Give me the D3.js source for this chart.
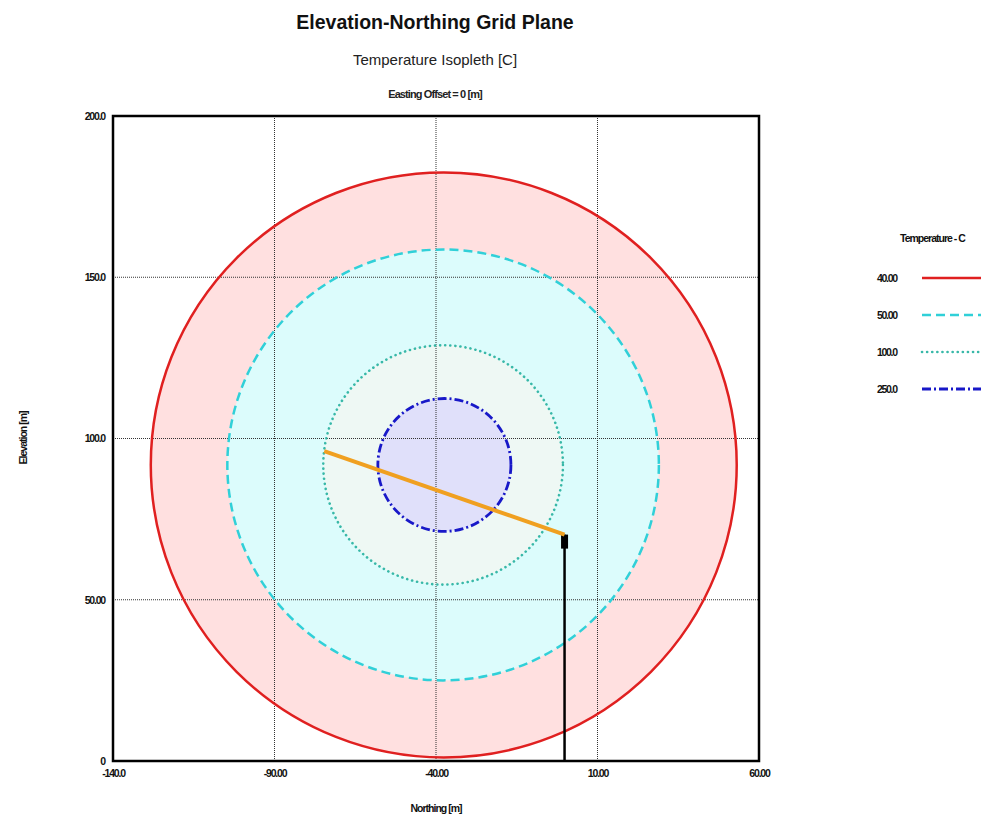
<!DOCTYPE html>
<html><head><meta charset="utf-8">
<script src="https://cdn.jsdelivr.net/npm/d3@7"></script>
<style>
body{margin:0;background:#fff;}
text{font-family:"Liberation Sans",Arial,sans-serif;}
</style></head>
<body>
<svg id="chart" width="981" height="831"></svg>
<script>
// ---- data ----
const xTicks = [-140, -90, -40, 10, 60];
const xTickLabels = ["-140.0", "-90.00", "-40.00", "10.00", "60.00"];
const yTicks = [0, 50, 100, 150, 200];
const yTickLabels = ["0", "50.00", "100.0", "150.0", "200.0"];
const isoLabels = ["40.00", "50.00", "100.0", "250.0"];
const isoRadii = [90.7, 66.8, 37.1, 20.6];
const isoCenterX = [-37.6, -37.8, -37.8, -37.4];
const isoCenterY = [91.8, 91.8, 91.8, 91.8];
const plumeX = [-74.6, -0.2];
const plumeY = [96.1, 70.2];
const stackX = [-0.2, -0.2];
const stackY = [0, 70.2];

const isoStroke = ["#e02020", "#30d0d8", "#38b8a8", "#1818c8"];
const isoFill = ["#ffe0e0", "#dcfcfc", "#eef8f4", "#e0e0fa"];
const isoDash = [null, "9,5", "0.1,5", "9,3,2,3"];
const isoWidth = [2.5, 2.5, 2.6, 2.8];
const isoCap = ["butt", "butt", "round", "butt"];

const svg = d3.select("#chart");
const L = 113, R = 759, T = 116, B = 761;
const x = d3.scaleLinear().domain([-140, 60]).range([L, R]);
const y = d3.scaleLinear().domain([0, 200]).range([B, T]);

// titles
svg.append("text").attr("x", 435).attr("y", 29).attr("text-anchor", "middle")
  .attr("font-size", 19.5).attr("font-weight", "bold").attr("fill", "#111").text("Elevation-Northing Grid Plane");
svg.append("text").attr("x", 435).attr("y", 65).attr("text-anchor", "middle")
  .attr("font-size", 15).attr("fill", "#222").text("Temperature Isopleth [C]");
svg.append("text").attr("x", 435).attr("y", 98).attr("text-anchor", "middle")
  .attr("font-size", 11).attr("font-weight", "bold").attr("letter-spacing", "-0.9").attr("fill", "#222")
  .text("Easting Offset = 0 [m]");

const clip = svg.append("defs").append("clipPath").attr("id", "clip");
clip.append("rect").attr("x", L).attr("y", T).attr("width", R - L).attr("height", B - T);

const g = svg.append("g").attr("clip-path", "url(#clip)");
// fills
isoRadii.forEach((r, i) => {
  g.append("ellipse")
    .attr("cx", x(isoCenterX[i])).attr("cy", y(isoCenterY[i]))
    .attr("rx", x(r) - x(0)).attr("ry", y(0) - y(r))
    .attr("fill", isoFill[i]);
});
// grid
xTicks.slice(1, -1).forEach(v => {
  g.append("line").attr("x1", x(v)).attr("x2", x(v)).attr("y1", T).attr("y2", B)
    .attr("stroke", "#333").attr("stroke-width", 1).attr("stroke-dasharray", "1,1");
});
yTicks.slice(1, -1).forEach(v => {
  g.append("line").attr("y1", y(v)).attr("y2", y(v)).attr("x1", L).attr("x2", R)
    .attr("stroke", "#333").attr("stroke-width", 1).attr("stroke-dasharray", "1,1");
});
// strokes
isoRadii.forEach((r, i) => {
  g.append("ellipse")
    .attr("cx", x(isoCenterX[i])).attr("cy", y(isoCenterY[i]))
    .attr("rx", x(r) - x(0)).attr("ry", y(0) - y(r))
    .attr("fill", "none").attr("stroke", isoStroke[i])
    .attr("stroke-width", isoWidth[i])
    .attr("stroke-linecap", isoCap[i])
    .attr("stroke-dasharray", isoDash[i]);
});
// stack
g.append("line").attr("x1", x(stackX[0])).attr("x2", x(stackX[1]))
  .attr("y1", y(stackY[0])).attr("y2", y(stackY[1]))
  .attr("stroke", "#000").attr("stroke-width", 2.5);
g.append("rect").attr("x", x(stackX[1]) - 3.5).attr("y", y(stackY[1]))
  .attr("width", 7).attr("height", 14).attr("fill", "#000");
// plume centerline
g.append("line").attr("x1", x(plumeX[0])).attr("y1", y(plumeY[0]))
  .attr("x2", x(plumeX[1])).attr("y2", y(plumeY[1]))
  .attr("stroke", "#f0a020").attr("stroke-width", 4);

// frame
svg.append("rect").attr("x", L).attr("y", T).attr("width", R - L).attr("height", B - T)
  .attr("fill", "none").attr("stroke", "#000").attr("stroke-width", 2.5);

// axes labels
const tickStyle = sel => sel.attr("font-size", 10.5).attr("font-weight", "bold")
  .attr("letter-spacing", "-1.2").attr("font-family", "Liberation Sans, Arial, sans-serif").attr("fill", "#111");

const xAxis = d3.axisBottom(x).tickValues(xTicks).tickSize(0)
  .tickFormat((d, i) => xTickLabels[i]);
const xa = svg.append("g").attr("transform", `translate(0,${B + 6})`).call(xAxis);
xa.select(".domain").remove();
xa.selectAll("text").call(tickStyle);

const yAxis = d3.axisLeft(y).tickValues(yTicks).tickSize(0)
  .tickFormat((d, i) => yTickLabels[i]);
const ya = svg.append("g").attr("transform", `translate(${L - 5},0)`).call(yAxis);
ya.select(".domain").remove();
ya.selectAll("text").call(tickStyle);

svg.append("text").attr("x", 436).attr("y", 812).attr("text-anchor", "middle")
  .attr("font-size", 10.5).attr("font-weight", "bold").attr("letter-spacing", "-1").attr("fill", "#111")
  .text("Northing [m]");
svg.append("text").attr("transform", "translate(27,438) rotate(-90)")
  .attr("text-anchor", "middle").attr("font-size", 10.5).attr("font-weight", "bold")
  .attr("letter-spacing", "-1").attr("fill", "#111").text("Elevation [m]");

// legend
svg.append("text").attr("x", 900).attr("y", 242).attr("font-size", 10.5).attr("font-weight", "bold")
  .attr("letter-spacing", "-1").attr("fill", "#111").text("Temperature - C");
isoLabels.forEach((lab, i) => {
  const yy = 278 + i * 37;
  svg.append("text").attr("x", 877).attr("y", yy + 3.5).attr("font-size", 10.5).attr("font-weight", "bold")
    .attr("letter-spacing", "-1.3").attr("fill", "#111").text(lab);
  svg.append("line").attr("x1", 922).attr("x2", 981).attr("y1", yy).attr("y2", yy)
    .attr("stroke", isoStroke[i]).attr("stroke-width", isoWidth[i])
    .attr("stroke-linecap", isoCap[i])
    .attr("stroke-dasharray", isoDash[i]);
});
</script>
</body></html>
